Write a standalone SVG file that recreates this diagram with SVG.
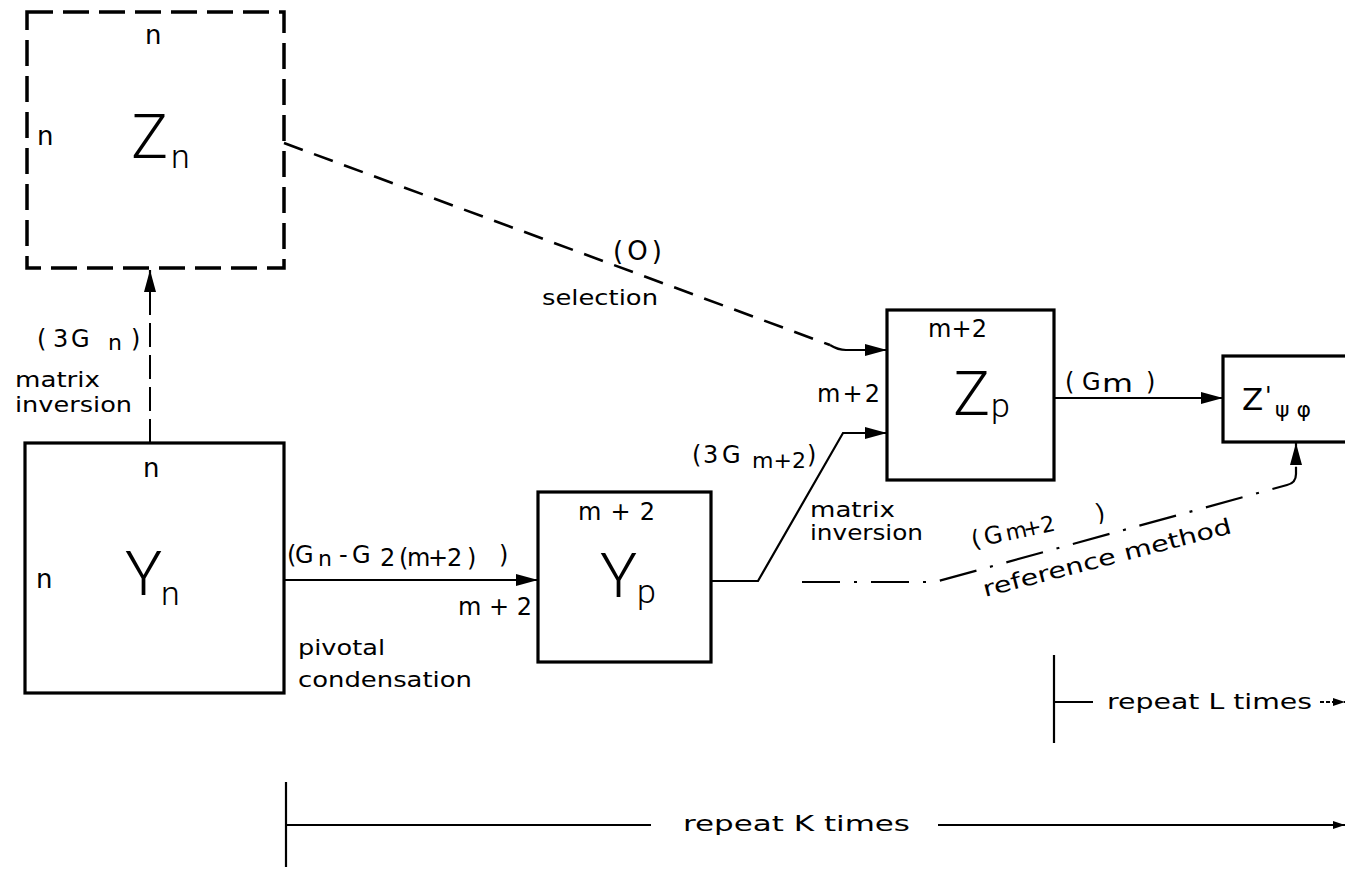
<svg xmlns="http://www.w3.org/2000/svg" width="1345" height="872" viewBox="0 0 1345 872">
<style>
.box{fill:none;stroke:#000;stroke-width:3.2}
.dbox{fill:none;stroke:#000;stroke-width:3.5;stroke-dasharray:26 10}
.ln{fill:none;stroke:#000;stroke-width:2.2}
.dash{fill:none;stroke:#000;stroke-width:2.6;stroke-dasharray:20 12}
.vdash{fill:none;stroke:#000;stroke-width:2;stroke-dasharray:24 8}
.dd{fill:none;stroke:#000;stroke-width:2.2;stroke-dasharray:38 14 3 14}
.t{font-family:"DejaVu Sans","Liberation Sans",sans-serif;font-size:24px;fill:#000}
.s{font-size:22px}
.big{font-family:Roboto,"DejaVu Sans",sans-serif;font-weight:300;font-size:62px;fill:#000}
.sub{font-family:Roboto,"DejaVu Sans",sans-serif;font-weight:300;font-size:34px;fill:#000}
</style>
<defs>
<marker id="ah" markerWidth="22" markerHeight="12" refX="22" refY="6" orient="auto" markerUnits="userSpaceOnUse"><path d="M0,0 L22,6 L0,12 z" fill="#000"/></marker>
<marker id="as" markerWidth="12" markerHeight="8" refX="12" refY="4" orient="auto" markerUnits="userSpaceOnUse"><path d="M0,0 L12,4 L0,8 z" fill="#000"/></marker>
</defs>

<g id="connectors">
<path class="ln" d="M284,580 H538" marker-end="url(#ah)"/>
<path class="ln" d="M711,581 H758 L843,433 H887" marker-end="url(#ah)"/>
<path class="dash" d="M284,143 L830,345"/>
<path class="ln" d="M830,345 Q838,350 846,350 H887" marker-end="url(#ah)"/>
<path class="vdash" d="M150,443 V290"/>
<path class="ln" d="M150,292 V270" marker-end="url(#ah)"/>
<path class="ln" d="M1054,398 H1223" marker-end="url(#ah)"/>
<path class="dd" d="M802,582 H935 L1287,485 Q1296,483 1296,474 V462"/>
<path class="ln" d="M1296,464 V443" marker-end="url(#ah)"/>
<path class="ln" d="M1054,655 V743 M1054,702 H1093"/>
<path class="ln" d="M1320,702 H1345" stroke-dasharray="4 2" marker-end="url(#as)"/>
<path class="ln" d="M286,782 V867 M286,825 H651"/>
<path class="ln" d="M938,825 H1345" marker-end="url(#as)"/>
</g>

<g id="Zn">
<rect class="dbox" x="27" y="12" width="257" height="256"/>
<text class="t" x="145" y="44" style="font-size:26px">n</text>
<text class="t" x="37" y="145" style="font-size:26px">n</text>
<text class="big" x="131" y="158">Z</text>
<text class="sub" x="171" y="168">n</text>
</g>

<g id="Yn">
<rect class="box" x="25" y="443" width="259" height="250"/>
<text class="t" x="143" y="477" style="font-size:26px">n</text>
<text class="t" x="36" y="588" style="font-size:26px">n</text>
<text class="big" x="125" y="595">Y</text>
<text class="sub" x="161" y="605">n</text>
</g>

<g id="Yp">
<rect class="box" x="538" y="492" width="173" height="170"/>
<text class="t" x="578" y="520" textLength="77">m + 2</text>
<text class="big" x="600" y="597">Y</text>
<text class="sub" x="637" y="603">p</text>
</g>

<g id="Zp">
<rect class="box" x="887" y="310" width="167" height="170"/>
<text class="t" x="928" y="337" textLength="59">m+2</text>
<text class="big" x="953" y="415">Z</text>
<text class="sub" x="991" y="417">p</text>
</g>

<g id="Zpsiphi">
<rect class="box" x="1223" y="356" width="130" height="86"/>
<text class="t" x="1242" y="410" style="font-size:31px">Z</text>
<text class="t" x="1265" y="404" style="font-size:24px">'</text>
<text class="t" x="1275" y="417" style="font-size:22px" textLength="36">ψφ</text>
</g>

<g id="labels">
<text class="t" x="613" y="260" style="font-size:26px" textLength="49">(O)</text>
<text class="t s" x="542" y="305" textLength="116" lengthAdjust="spacingAndGlyphs">selection</text>
<text class="t" x="37 53 71" y="347">(3G<tspan class="s" x="108" y="350">n</tspan><tspan x="131" y="347">)</tspan></text>
<text class="t s" x="15" y="387" textLength="85" lengthAdjust="spacingAndGlyphs">matrix</text>
<text class="t s" x="15" y="412" textLength="117" lengthAdjust="spacingAndGlyphs">inversion</text>
<text class="t" x="287 295" y="563">(G<tspan class="s" x="318" y="566">n</tspan><tspan x="339 352" y="563">-G</tspan><tspan x="380 399 407 428 447 467" y="566">2(m+2)</tspan><tspan x="499" y="563">)</tspan></text>
<text class="t" x="458" y="615" textLength="74">m + 2</text>
<text class="t s" x="298" y="655" textLength="87" lengthAdjust="spacingAndGlyphs">pivotal</text>
<text class="t s" x="298" y="687" textLength="174" lengthAdjust="spacingAndGlyphs">condensation</text>
<text class="t" x="692 703 722" y="463">(3G<tspan class="s" x="752" y="468" textLength="54">m+2</tspan><tspan x="807" y="463">)</tspan></text>
<text class="t" x="810" y="517" style="font-size:21px" textLength="85" lengthAdjust="spacingAndGlyphs">matrix</text>
<text class="t" x="810" y="540" style="font-size:21px" textLength="113" lengthAdjust="spacingAndGlyphs">inversion</text>
<text class="t" x="817" y="402" textLength="63">m+2</text>
<text class="t" x="1065" y="390">(<tspan x="1082">G</tspan><tspan x="1102" y="392" textLength="31" lengthAdjust="spacingAndGlyphs">m</tspan><tspan x="1146" y="390">)</tspan></text>
<text class="t" transform="rotate(-12 973 548)" x="973 986" y="548">(G<tspan style="font-size:22px" x="1008 1026 1044">m+2</tspan><tspan x="1100">)</tspan></text>
<text class="t s" transform="rotate(-14.5 985 597)" x="985" y="597" textLength="256" lengthAdjust="spacingAndGlyphs">reference method</text>
<text class="t s" x="1107" y="709" textLength="205" lengthAdjust="spacingAndGlyphs">repeat L times</text>
<text class="t s" x="683" y="831" textLength="227" lengthAdjust="spacingAndGlyphs">repeat K times</text>
</g>
</svg>
